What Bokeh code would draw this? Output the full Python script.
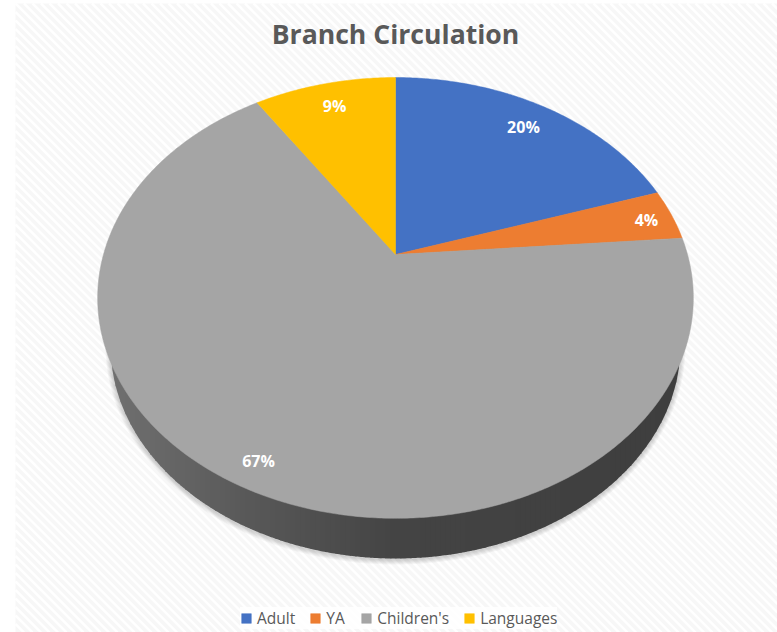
import numpy as np
from bokeh.plotting import figure
from bokeh.models import Range1d, Legend, LegendItem, Label
from bokeh.embed import file_html
from bokeh.resources import INLINE
from bokeh.core.properties import value

TITLE = "Branch Circulation"
categories = ["Adult", "YA", "Children's", "Languages"]
shares = [20.0, 3.75, 66.95, 9.3]
slice_colors = ["#4472C4", "#ED7D31", "#A5A5A5", "#FFC000"]
label_radius = [0.846, 0.904, 0.907, 0.851]
label_turn = [0.0, 0.45, -0.3, 0.2]

W, H = 777, 632
# page pixels are used as plot coordinates
X0, X1, Y0, Y1 = 0, W, H, 0

# perspective of the pie's top face
CX, APEX_Y = 395.0, 254.0
PY_B, PY_C, PX_D = -161.8, 0.197, 292.0


def project(deg, r=1.0):
    a = np.radians(deg)
    u, v = r * np.sin(a), r * np.cos(a)
    w = 1 + PY_C * v
    return CX + PX_D * u / w, (APEX_Y + PY_B * v) / w


p = figure(width=W, height=H, output_backend="svg", toolbar_location=None,
           x_range=Range1d(X0, X1), y_range=Range1d(Y0, Y1),
           min_border=0, outline_line_color=None, background_fill_color="#ffffff",
           border_fill_color="#ffffff")
p.axis.visible = False
p.grid.visible = False

# striped chart-area background
BG_L, BG_T = 15, 3
p.quad(left=[BG_L], right=[X1], top=[BG_T], bottom=[Y0],
       fill_color="#f7f7f7", line_color=None)
sx, sy = [], []
w_bg, h_bg = X1 - BG_L, Y0 - BG_T
for off in np.arange(-h_bg, w_bg, 8.5):
    # line from upper-left to lower-right, clipped to the rectangle
    t0 = max(0.0, -off)
    t1 = min(float(h_bg), w_bg - off)
    if t1 > t0:
        sx.append([BG_L + off + t0, BG_L + off + t1])
        sy.append([BG_T + t0, BG_T + t1])
p.multi_line(sx, sy, line_color="#ffffff", line_width=2.5, line_alpha=0.9)

# lower wall ellipse
WALL_CY, WALL_RX, WALL_RY = 345.0, 285.0, 213.0

# soft shadow
tt = np.linspace(0, 2 * np.pi, 240)
for grow in [5, 4, 3, 2, 1]:
    p.patch(CX + (WALL_RX + grow) * np.cos(tt), WALL_CY + 1 + (WALL_RY + grow) * np.sin(tt),
            fill_color="#000000", fill_alpha=0.035, line_color=None)

# wall, shaded left to right
strip_edges = np.arange(CX - WALL_RX, CX + WALL_RX + 0.1, 5.0)
shade_x = [CX - WALL_RX, 250, 395, CX + WALL_RX]
shade_v = [112, 88, 68, 62]
xs, ys, cols = [], [], []
for a, b in zip(strip_edges[:-1], strip_edges[1:]):
    xa = np.linspace(a, min(b + 0.8, CX + WALL_RX), 4)
    yb = WALL_CY + WALL_RY * np.sqrt(np.clip(1 - ((xa - CX) / WALL_RX) ** 2, 0, 1))
    xs.append(np.r_[xa, xa[::-1]].tolist())
    ys.append(np.r_[yb, np.full(4, WALL_CY - 20)].tolist())
    g = int(round(np.interp((a + b) / 2, shade_x, shade_v)))
    cols.append(f"#{g:02x}{g:02x}{g:02x}")
p.patches(xs, ys, fill_color=cols, line_color=None)

# top face slices
edges = np.cumsum([0] + shares) / sum(shares) * 360.0
items = []
for name, color, a0, a1 in zip(categories, slice_colors, edges[:-1], edges[1:]):
    deg = np.linspace(a0, a1, max(8, int(a1 - a0) * 2))
    ax, ay = project(deg)
    r = p.patch(np.r_[CX, ax], np.r_[APEX_Y, ay], fill_color=color, line_color=color, line_width=0.5)
    items.append(LegendItem(label=name, renderers=[r]))

# data labels
mid = (edges[:-1] + edges[1:]) / 2
lx, ly = project(mid + np.array(label_turn), np.array(label_radius))
p.text(lx, ly, text=[f"{round(s)}%" for s in shares], text_color="#ffffff",
       text_font=value("Open Sans"), text_font_style="bold", text_font_size="16px",
       text_align="center", text_baseline="middle")

p.add_layout(Label(x=CX, y=33, text=TITLE, text_align="center", text_baseline="middle",
                   text_color="#595959", text_font="Open Sans", text_font_style="bold",
                   text_font_size="26.6px"))

legend = Legend(items=items, orientation="horizontal", location=(240, 3),
                label_text_font="Open Sans", label_text_font_size="15.5px",
                label_text_color="#595959", glyph_width=12, glyph_height=12,
                label_standoff=5, spacing=14, padding=8, margin=0,
                background_fill_color="#ffffff", background_fill_alpha=0.8,
                border_line_color=None, label_height=14)
p.add_layout(legend, "center")

open("out.html", "w").write(file_html(p, INLINE))
